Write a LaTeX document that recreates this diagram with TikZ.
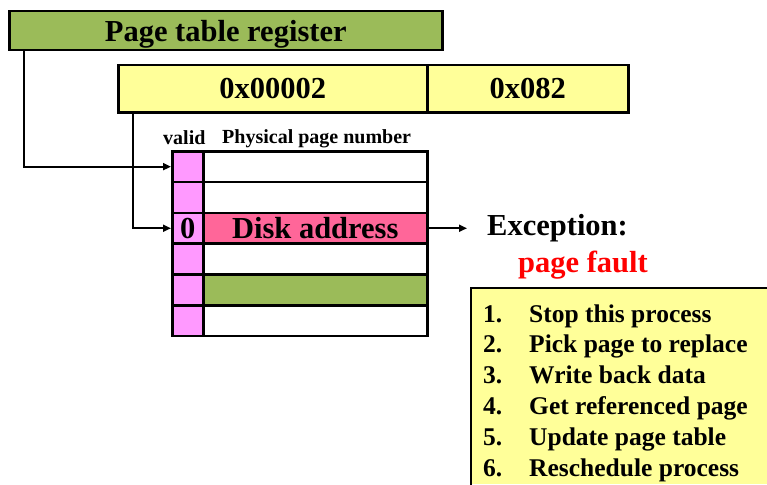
\documentclass[tikz,border=0pt]{standalone}
\usepackage{fontspec}
\setmainfont{Liberation Serif}
\usetikzlibrary{arrows.meta}
\definecolor{regGreen}{HTML}{9BBB59}
\definecolor{addrYellow}{HTML}{FFFF99}
\definecolor{validPink}{HTML}{FF99FF}
\definecolor{diskRose}{HTML}{FF6699}
\definecolor{faultRed}{HTML}{FF0000}
\begin{document}
\begin{tikzpicture}[x=1pt,y=-1pt,
  bigfont/.style={font=\bfseries\fontsize{30.5}{36}\selectfont},
  listfont/.style={font=\bfseries\fontsize{25.5}{30}\selectfont},
  smallfont/.style={font=\bfseries\fontsize{20}{24}\selectfont},
  regbox/.style={draw, line width=2.5pt, inner sep=0pt, anchor=north west, text depth=0pt, bigfont},
  vcell/.style={draw, line width=2.5pt, inner sep=0pt, anchor=north west, text depth=0pt,
    minimum width=31pt, minimum height=30.8pt, fill=validPink, bigfont},
  pcell/.style={draw, line width=2.5pt, inner sep=0pt, anchor=north west, text depth=0pt,
    minimum width=224pt, minimum height=30.8pt, fill=white, bigfont},
  link/.style={line width=2pt, -{Triangle[length=8pt,width=7pt]}},
  label/.style={inner sep=0pt, anchor=base west}
]
\clip (0,0) rectangle (767,484);
\fill[white] (0,0) rectangle (767,484);

% page table register and virtual address fields
\node[regbox, fill=regGreen, minimum width=433pt, minimum height=39pt] (ptr) at (8,10) {Page table register};
\node[regbox, fill=addrYellow, minimum width=309pt, minimum height=47pt] (vpn) at (117,64) {0x00002};
\node[regbox, fill=addrYellow, minimum width=201pt, minimum height=47pt] (off) at (426,64) {0x082};

% column headings
\node[label, smallfont] (hvalid) at (163,144) {valid};
\node[label, smallfont] (hppn) at (222,143) {Physical page number};

% page table rows
\node[vcell] (v1) at (171,150.0) {};
\node[pcell] (p1) at (202,150.0) {};
\node[vcell] (v2) at (171,180.8) {};
\node[pcell] (p2) at (202,180.8) {};
\node[vcell] (v3) at (171,211.6) {0};
\node[pcell, fill=diskRose] (p3) at (202,211.6) {Disk address};
\node[vcell] (v4) at (171,242.4) {};
\node[pcell] (p4) at (202,242.4) {};
\node[vcell] (v5) at (171,273.2) {};
\node[pcell, fill=regGreen] (p5) at (202,273.2) {};
\node[vcell] (v6) at (171,304.0) {};
\node[pcell] (p6) at (202,304.0) {};

% exception message
\node[label, bigfont] (exc) at (487,235) {Exception:};
\node[label, bigfont, text=faultRed] (fault) at (518,272) {page fault};

% connectors
\draw[link] ([xshift=16pt]ptr.south west) |- (v1.west);
\draw[link] ([xshift=16pt]vpn.south west) |- (v3.west);
\draw[link] (p3.east) -- ([xshift=-20pt]p3.east -| exc.west);

% handler steps
\fill[addrYellow] (471,288) rectangle (767,484);
\draw[line width=2.5pt] (471,486) -- (471,288) -- (769,288);
\foreach \i/\txt in {1/Stop this process, 2/Pick page to replace, 3/Write back data,
                     4/Get referenced page, 5/Update page table, 6/Reschedule process} {
  \node[label, listfont] (num\i) at (483,{322+30.8*(\i-1)}) {\i.};
  \node[label, listfont] (step\i) at (529,{322+30.8*(\i-1)}) {\txt};
}
\end{tikzpicture}
\end{document}
